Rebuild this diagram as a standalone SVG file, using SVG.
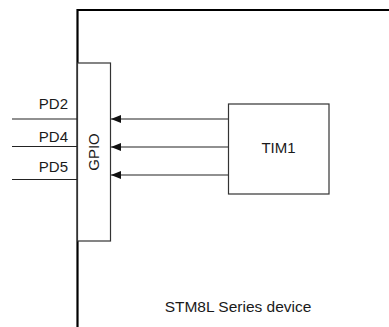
<svg xmlns="http://www.w3.org/2000/svg" width="389" height="327" viewBox="0 0 389 327">
<style>
.box{fill:#fff;stroke:#333;stroke-width:1.2}
.t{font-family:"Liberation Sans",Arial,sans-serif;font-size:15px;fill:#1a1a1a}
.w{stroke:#222;stroke-width:1.2;fill:none}
</style>
<defs>
<marker id="ah" viewBox="0 0 10 8" refX="10" refY="4" markerWidth="10" markerHeight="8" markerUnits="userSpaceOnUse" orient="auto">
<path d="M0,0 L10,4 L0,8 Z" fill="#111"/>
</marker>
</defs>
<rect width="389" height="327" fill="#fff"/>
<g id="device">
<path d="M77.5,330 V10 H392" fill="none" stroke="#000" stroke-width="2.2"/>
<text class="t" x="238" y="312" font-size="16" text-anchor="middle" style="font-size:15.5px">STM8L Series device</text>
</g>
<g id="connectors">
<line class="w" x1="12" y1="119" x2="77" y2="119"/>
<line class="w" x1="12" y1="146.5" x2="77" y2="146.5"/>
<line class="w" x1="12" y1="179.5" x2="77" y2="179.5"/>
<line class="w" x1="228.5" y1="119" x2="111" y2="119" marker-end="url(#ah)"/>
<line class="w" x1="228.5" y1="147" x2="111" y2="147" marker-end="url(#ah)"/>
<line class="w" x1="228.5" y1="175" x2="111" y2="175" marker-end="url(#ah)"/>
<text class="t" x="68" y="109" text-anchor="end">PD2</text>
<text class="t" x="68" y="141.5" text-anchor="end">PD4</text>
<text class="t" x="68" y="171.5" text-anchor="end">PD5</text>
</g>
<g id="gpio">
<rect class="box" x="77.5" y="63" width="33" height="178"/>
<text class="t" x="0" y="0" text-anchor="middle" transform="translate(99,152) rotate(-90)">GPIO</text>
</g>
<g id="tim1">
<rect class="box" x="228.5" y="104" width="100.5" height="90"/>
<text class="t" x="278.5" y="153" text-anchor="middle">TIM1</text>
</g>
</svg>
